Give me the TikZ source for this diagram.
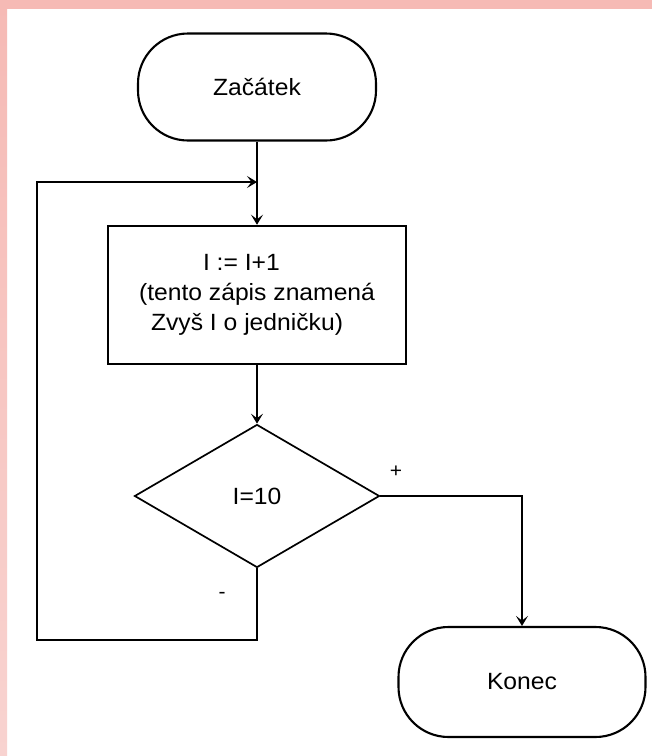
\documentclass[tikz,border=0pt]{standalone}
\usepackage{fontspec}
\setmainfont{Liberation Sans}[FakeStretch=1.05]
\usetikzlibrary{shapes.geometric,arrows.meta}
\definecolor{framepink}{HTML}{F6BAB5}
\definecolor{framepinklight}{HTML}{F8D3D0}
\tikzset{
  terminal/.style={draw, line width=2.1pt, rounded corners=50pt, inner sep=0pt,
    font=\fontsize{23.5}{28}\selectfont},
  procbox/.style={draw, line width=2.5pt, inner sep=0pt, align=left,
    font=\fontsize{23.5}{30}\selectfont},
  decision/.style={draw, diamond, line width=1.7pt, inner sep=0pt,
    font=\fontsize{23.5}{28}\selectfont},
  flow/.style={line width=1.7pt},
  arr/.style={flow, -{Stealth[length=10pt,width=12pt,inset=4.5pt]}},
  signlabel/.style={font=\fontsize{20}{22}\selectfont, inner sep=0pt},
}
\begin{document}
\begin{tikzpicture}[x=1pt,y=-1pt]
  % page frame: white sheet with a pink edge on the top and left
  \useasboundingbox (0,0) rectangle (652,756);
  \fill[white] (0,0) rectangle (652,756);
  \shade[top color=framepink, bottom color=framepinklight] (0,0) rectangle (7,756);
  \fill[framepink] (0,0) rectangle (652,9);

  % flowchart nodes
  \node[terminal, minimum width=238pt, minimum height=107pt] (start) at (257,87) {Začátek};
  \node[procbox, minimum width=298pt, minimum height=138pt] (inc) at (257,295)
    {\hspace*{64pt}I := I+1\\(tento zápis znamená\\\hspace*{12pt}Zvyš I o jedničku)};
  \node[decision, minimum width=245pt, minimum height=143pt] (test) at (257,496) {I=10};
  \node[terminal, minimum width=247pt, minimum height=110pt] (stop) at (522,682) {Konec};

  % helper points of the loop and of the exit branch
  \coordinate (join) at (inc.north |- 0,182);
  \coordinate (loopbr) at (test.south |- 0,640);
  \coordinate (loopbl) at (37,640);
  \coordinate (looptl) at (37,182);
  \coordinate (exitc) at (stop.north |- test.east);

  % connectors
  \draw[arr] (start.south) -- (inc.north);
  \draw[arr] (inc.south) -- (test.north);
  \draw[arr] (test.south) -- (loopbr) -- (loopbl) -- (looptl) -- (join);
  \draw[arr] (test.east) -- (exitc) -- (stop.north);

  % branch labels
  \node[signlabel] (plus) at (396,472) {+};
  \node[signlabel] (minus) at (222,595) {-};
\end{tikzpicture}
\end{document}
